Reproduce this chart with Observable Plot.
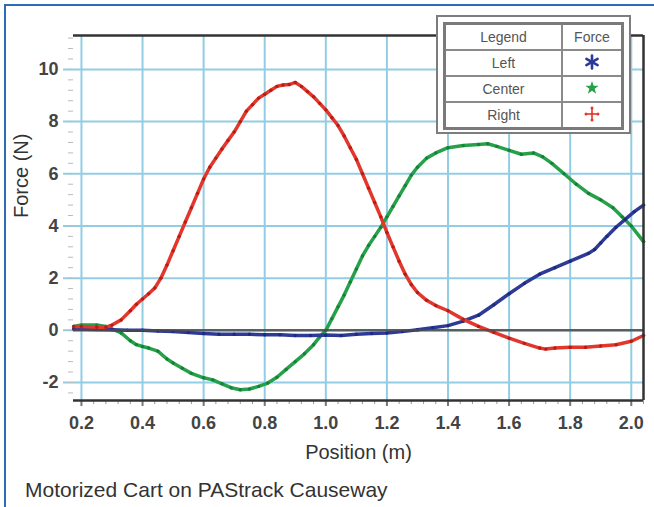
<!DOCTYPE html>
<html><head><meta charset="utf-8">
<script src="https://cdn.jsdelivr.net/npm/d3@7"></script>
<script src="https://cdn.jsdelivr.net/npm/@observablehq/plot@0.6"></script>
<style>
html,body{margin:0;padding:0;background:#fff;overflow:hidden;width:654px;height:507px;}
#wrap{position:relative;width:654px;height:507px;font-family:"Liberation Sans",Arial,sans-serif;overflow:hidden;}
#border{position:absolute;left:4px;top:4px;width:700px;height:600px;border-left:2px solid #2a6db3;border-top:2px solid #2a6db3;}
#chart{position:absolute;left:0;top:0;}
#legend{position:absolute;left:436px;top:15px;width:195px;height:119px;box-sizing:border-box;border:2px solid #7d7d7d;background:#fff;}
#legend table{position:absolute;left:5px;top:5px;width:181px;height:105px;border-collapse:collapse;border:3px solid #7a7a7a;}
#legend td{border:2px solid #8a8a8a;text-align:center;font-size:14px;color:#555;padding:0;height:24px;}
#legend td.sym{width:58px;}
#caption{position:absolute;left:25px;top:478px;font-size:21px;color:#333;white-space:nowrap;}
</style></head>
<body><div id="wrap"><div id="border"></div><div id="chart"></div><div id="legend"></div><div id="caption"></div></div>
<script>
const captionText = "Motorized Cart on PAStrack Causeway";
const xLabel = "Position (m)";
const yLabel = "Force (N)";
const seriesNames = ["Left", "Center", "Right"];
const legendHeader = ["Legend", "Force"];
const xTicks = [0.2, 0.4, 0.6, 0.8, 1.0, 1.2, 1.4, 1.6, 1.8, 2.0];
const yTicks = [-2, 0, 2, 4, 6, 8, 10];
const xDomain = [0.174, 2.04];
const yDomain = [-2.69, 11.3];

const leftPos = [0.175,0.25,0.3,0.35,0.4,0.45,0.5,0.55,0.6,0.65,0.7,0.75,0.8,0.85,0.9,0.95,1.0,1.05,1.1,1.15,1.2,1.25,1.3,1.35,1.4,1.45,1.5,1.55,1.6,1.65,1.7,1.75,1.8,1.86,1.88,1.9,1.92,1.95,1.98,2.01,2.04];
const leftForce = [0.05,0.03,0.02,0.0,0.0,-0.03,-0.05,-0.08,-0.12,-0.15,-0.15,-0.15,-0.17,-0.17,-0.2,-0.2,-0.18,-0.2,-0.15,-0.12,-0.1,-0.05,0.02,0.1,0.18,0.35,0.58,0.98,1.4,1.8,2.15,2.4,2.65,2.95,3.1,3.35,3.6,3.95,4.25,4.55,4.8];

const centerPos = [0.175,0.2,0.25,0.28,0.3,0.33,0.36,0.38,0.4,0.42,0.45,0.48,0.5,0.53,0.56,0.6,0.63,0.66,0.69,0.72,0.75,0.78,0.81,0.84,0.87,0.9,0.93,0.96,0.98,1.0,1.02,1.04,1.06,1.08,1.1,1.12,1.14,1.16,1.18,1.2,1.22,1.24,1.26,1.28,1.3,1.33,1.36,1.4,1.45,1.5,1.53,1.56,1.6,1.64,1.68,1.71,1.74,1.78,1.82,1.86,1.9,1.94,1.97,2.0,2.04];
const centerForce = [0.15,0.2,0.2,0.15,0.05,-0.1,-0.4,-0.55,-0.62,-0.68,-0.8,-1.1,-1.25,-1.45,-1.65,-1.82,-1.9,-2.05,-2.2,-2.28,-2.25,-2.15,-2.02,-1.8,-1.5,-1.2,-0.9,-0.55,-0.25,0.0,0.45,0.9,1.35,1.85,2.35,2.85,3.25,3.6,3.95,4.35,4.75,5.15,5.55,5.95,6.25,6.6,6.8,7.0,7.08,7.12,7.15,7.05,6.9,6.75,6.8,6.65,6.4,6.0,5.6,5.25,5.0,4.7,4.35,4.0,3.4];

const rightPos = [0.175,0.2,0.25,0.28,0.3,0.33,0.36,0.38,0.4,0.42,0.44,0.46,0.48,0.5,0.52,0.54,0.56,0.58,0.6,0.62,0.64,0.66,0.68,0.7,0.72,0.74,0.76,0.78,0.8,0.82,0.84,0.86,0.88,0.9,0.92,0.94,0.96,0.98,1.0,1.02,1.04,1.06,1.08,1.1,1.12,1.14,1.16,1.18,1.2,1.22,1.24,1.26,1.28,1.3,1.33,1.36,1.4,1.45,1.5,1.55,1.6,1.65,1.7,1.72,1.75,1.8,1.85,1.9,1.95,2.0,2.04];
const rightForce = [0.15,0.15,0.12,0.12,0.2,0.4,0.75,1.0,1.2,1.4,1.62,2.0,2.5,3.05,3.6,4.15,4.7,5.25,5.8,6.25,6.6,6.95,7.28,7.6,8.0,8.4,8.65,8.9,9.05,9.2,9.35,9.4,9.42,9.5,9.35,9.15,8.95,8.7,8.45,8.15,7.85,7.45,7.0,6.55,6.0,5.45,4.9,4.35,3.75,3.2,2.65,2.15,1.75,1.45,1.15,0.95,0.75,0.42,0.15,-0.08,-0.3,-0.5,-0.68,-0.72,-0.68,-0.65,-0.65,-0.6,-0.55,-0.42,-0.2];

const lineColors = ["#2d3a98", "#27a149", "#e2372c"];
const dotColors = ["#1f2a7a", "#16803a", "#b81c14"];

const series = [
  d3.zip(leftPos, leftForce).map(([x, y]) => ({x, y})),
  d3.zip(centerPos, centerForce).map(([x, y]) => ({x, y})),
  d3.zip(rightPos, rightForce).map(([x, y]) => ({x, y}))
];
const xMinor = d3.range(0.2, 2.041, 0.04).map(v => +v.toFixed(2));
const yMinor = d3.range(-2.4, 11.3, 0.4).map(v => +v.toFixed(2));
const gridColor = "#92cde4";
const order = [1, 0, 2];

const chart = Plot.plot({
  width: 654, height: 470,
  marginLeft: 73, marginRight: 11, marginTop: 35, marginBottom: 70,
  x: {domain: xDomain, axis: null},
  y: {domain: yDomain, axis: null},
  style: {fontFamily: "Liberation Sans, Arial, sans-serif", background: "transparent", overflow: "visible"},
  marks: [
    Plot.ruleX(xTicks, {stroke: gridColor, strokeWidth: 2}),
    Plot.ruleY(yTicks, {stroke: gridColor, strokeWidth: 2, insetLeft: -10}),
    Plot.ruleY(yMinor, {x1: () => xDomain[0], x2: () => xDomain[0], insetLeft: -5, stroke: "#bbb"}),
    Plot.ruleX(xMinor, {y1: () => yDomain[0], y2: () => yDomain[0], insetBottom: -4, stroke: "#999"}),
    Plot.ruleX(xTicks, {y1: () => yDomain[0], y2: () => yDomain[0], insetBottom: -6, stroke: "#777", strokeWidth: 2}),
    ...order.flatMap(i => [
      Plot.line(series[i], {x: "x", y: "y", stroke: lineColors[i], strokeWidth: 3.5, curve: "linear"}),
      Plot.dot(series[i], {x: "x", y: "y", r: 1.7, fill: dotColors[i]})
    ]),
    Plot.ruleY([0], {stroke: "#4a4a4a", strokeWidth: 2.5, strokeOpacity: 0.85}),
    Plot.ruleY([yDomain[1]], {stroke: "#333", strokeWidth: 2.5}),
    Plot.ruleY([yDomain[0]], {stroke: "#333", strokeWidth: 2.5}),
    Plot.ruleX([xDomain[1]], {stroke: "#333", strokeWidth: 2.5}),
    Plot.text(yTicks, {x: () => xDomain[0], y: d => d, text: d => String(d), textAnchor: "end", dx: -15, fontSize: 18, fontWeight: "bold", fill: "#444"}),
    Plot.text(xTicks, {x: d => d, y: () => yDomain[0], text: d => d3.format(".1f")(d), dy: 23, fontSize: 18, fontWeight: "bold", fill: "#444"}),
    Plot.text([xLabel], {frameAnchor: "bottom", dy: 58, fontSize: 20, fill: "#333"}),
    Plot.text([yLabel], {frameAnchor: "left", dx: -52, rotate: -90, fontSize: 20, fill: "#333"})
  ]
});
document.getElementById("chart").appendChild(chart);
document.getElementById("caption").textContent = captionText;

const symbols = [
  c => `<svg width="16" height="16" viewBox="-8 -8 16 16"><g stroke="${c}" stroke-width="2.6" stroke-linecap="round"><line x1="0" y1="-6.5" x2="0" y2="6.5"/><line x1="-5.6" y1="-3.2" x2="5.6" y2="3.2"/><line x1="-5.6" y1="3.2" x2="5.6" y2="-3.2"/></g></svg>`,
  c => `<svg width="16" height="16" viewBox="-8 -8 16 16"><polygon fill="${c}" points="${d3.range(10).map(k => { const r = k % 2 ? 2.8 : 7; const a = -Math.PI / 2 + k * Math.PI / 5; return (r * Math.cos(a)).toFixed(2) + "," + (r * Math.sin(a)).toFixed(2); }).join(" ")}"/></svg>`,
  c => `<svg width="16" height="16" viewBox="-8 -8 16 16"><g stroke="${c}" stroke-width="1.6"><line x1="0" y1="-6" x2="0" y2="6"/><line x1="-6" y1="0" x2="6" y2="0"/></g><g fill="${c}"><circle cx="0" cy="-6" r="1.5"/><circle cx="0" cy="6" r="1.5"/><circle cx="-6" cy="0" r="1.5"/><circle cx="6" cy="0" r="1.5"/><circle cx="0" cy="0" r="1.3"/></g></svg>`
];
let html = `<table><tr><td>${legendHeader[0]}</td><td class="sym">${legendHeader[1]}</td></tr>`;
seriesNames.forEach((n, i) => {
  html += `<tr><td>${n}</td><td class="sym">${symbols[i](lineColors[i])}</td></tr>`;
});
html += `</table>`;
document.getElementById("legend").innerHTML = html;
</script>
</body></html>
